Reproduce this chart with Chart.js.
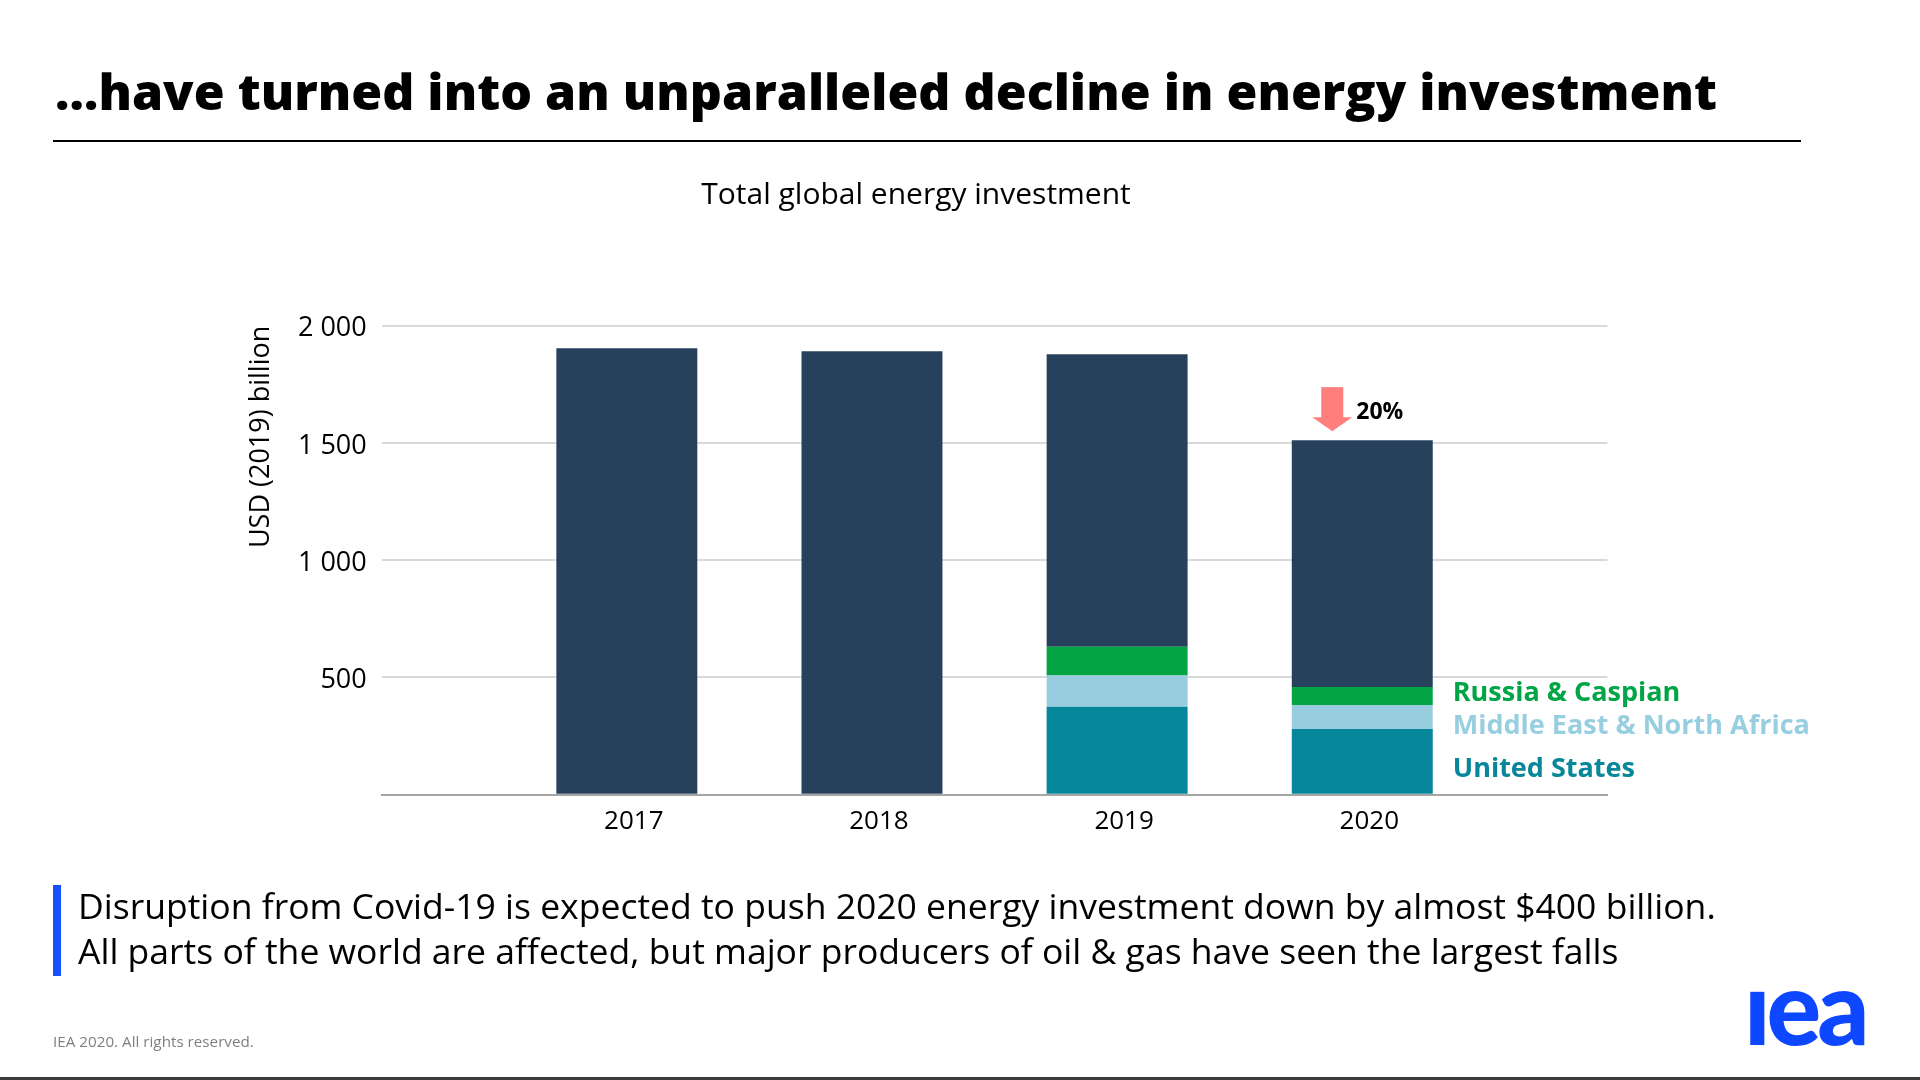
<!DOCTYPE html>
<html>
<head>
<meta charset="utf-8">
<script src="https://cdn.jsdelivr.net/npm/chart.js@4.4.1/dist/chart.umd.min.js"></script>
<style>
    html, body { margin: 0; padding: 0; background: #fff; }
    body { width: 1920px; height: 1080px; position: relative; overflow: hidden; font-family: 'Open Sans', sans-serif; }
    #chartBox { position: absolute; left: 0; top: 0; width: 1920px; height: 1080px; }
    .slideTitle { position: absolute; left: 55px; top: 57px; font-family: 'Open Sans', sans-serif; font-weight: 800; font-size: 50px; line-height: 68px; white-space: nowrap; color: #000; }
    .rule { position: absolute; left: 53px; top: 140px; width: 1748px; height: 2px; background: #000; }
    .bluebar { position: absolute; left: 53px; top: 885px; width: 8px; height: 91px; background: #1650ff; }
    .message { position: absolute; left: 78px; top: 883px; font-size: 34px; line-height: 45px; color: #000; white-space: nowrap; }
    .footer { position: absolute; left: 53px; top: 1031px; font-size: 15px; line-height: 20px; color: #7f7f7f; white-space: nowrap; }
    .logo { position: absolute; left: 1744px; top: 945px; font-family: 'Lato', sans-serif; font-weight: 900; font-size: 102px; line-height: 122px; color: #0d47ff; letter-spacing: -4px; }
    .bottomband { position: absolute; left: 0; top: 1077px; width: 1920px; height: 3px; background: #3a3a3a; }
</style>
</head>
<body>
<div id="chartBox"><canvas id="chartInversion"></canvas></div>
<div class="slideTitle" id="slideTitle">…have turned into an unparalleled decline in energy investment</div>
<div class="rule"></div>
<div class="bluebar"></div>
<div class="message">
    <div id="msgLine1">Disruption from Covid-19 is expected to push 2020 energy investment down by almost $400 billion.</div>
    <div>All parts of the world are affected, but major producers of oil &amp; gas have seen the largest falls</div>
</div>
<div class="footer" id="footer">IEA 2020. All rights reserved.</div>
<div class="logo">ıea</div>
<div class="bottomband"></div>

<script>
// datos
const years = ['', '2017', '2018', '2019', '2020', ''];
const unitedStates = [null, null, null, 375, 280, null];
const middleEastNorthAfrica = [null, null, null, 133, 102, null];
const russiaCaspian = [null, null, null, 123, 77, null];
const restOfWorld = [null, 1904, 1891, 1247, 1053, null];
const seriesNames = ['United States', 'Middle East & North Africa', 'Russia & Caspian', 'Other'];
const yTicks = [0, 500, 1000, 1500, 2000];
const dropLabel = '20%';

const colores = {
    us: '#05869a',
    mena: '#98cddf',
    russia: '#02a444',
    rest: '#27405b'
};

/* ==============================
   AJUSTAR TEXTOS HTML
================================ */
function ajustarAncho(el, objetivo, target) {
    const w = el.getBoundingClientRect().width;
    const box = target || el;
    const fs = parseFloat(getComputedStyle(box).fontSize);
    box.style.fontSize = (fs * objetivo / w).toFixed(2) + 'px';
}

function ajustarEspaciado(el, objetivo) {
    const w = el.getBoundingClientRect().width;
    const n = el.textContent.length;
    el.style.letterSpacing = ((objetivo - w) / n).toFixed(3) + 'px';
}

ajustarEspaciado(document.getElementById('slideTitle'), 1662);
const linea1 = document.getElementById('msgLine1');
linea1.style.display = 'inline-block';
ajustarAncho(linea1, 1638, linea1.parentElement);
ajustarAncho(document.getElementById('footer'), 201);

/* ==============================
   FLECHA Y ETIQUETAS
================================ */
const anotaciones = {
    id: 'anotaciones',
    afterDatasetsDraw(chart) {
        const ctx = chart.ctx;
        const last = 4; // 2020
        const barTop = chart.getDatasetMeta(3).data[last];

        // flecha
        const cx = barTop.x - 30;
        const tip = barTop.y - 9;
        ctx.save();
        ctx.fillStyle = '#ff7f7f';
        ctx.fillRect(cx - 11, tip - 44, 22, 31);
        ctx.beginPath();
        ctx.moveTo(cx - 20, tip - 14);
        ctx.lineTo(cx + 20, tip - 14);
        ctx.lineTo(cx, tip);
        ctx.closePath();
        ctx.fill();

        ctx.fillStyle = '#000';
        ctx.font = "bold 23px 'Open Sans'";
        ctx.textAlign = 'left';
        ctx.textBaseline = 'middle';
        ctx.fillText(dropLabel, barTop.x - 6, barTop.y - 28);

        // etiquetas de regiones
        const offsets = [8, 9, -3];
        const colorsText = ['#06879a', '#98cfe0', '#00a546'];
        ctx.font = "bold 27px 'Open Sans'";
        for (let i = 0; i < 3; i++) {
            const el = chart.getDatasetMeta(i).data[last];
            const yc = (el.y + el.base) / 2 + offsets[i];
            ctx.fillStyle = colorsText[i];
            ctx.fillText(seriesNames[i], el.x + el.width / 2 + 20, yc);
        }
        ctx.restore();
    }
};

Chart.defaults.font.family = "'Open Sans', sans-serif";
Chart.defaults.color = '#000';

new Chart(document.getElementById('chartInversion'), {
    type: 'bar',
    data: {
        labels: years,
        datasets: [
            { label: seriesNames[0], data: unitedStates, backgroundColor: colores.us },
            { label: seriesNames[1], data: middleEastNorthAfrica, backgroundColor: colores.mena },
            { label: seriesNames[2], data: russiaCaspian, backgroundColor: colores.russia },
            { label: seriesNames[3], data: restOfWorld, backgroundColor: colores.rest }
        ]
    },
    options: {
        responsive: true,
        maintainAspectRatio: false,
        animation: false,
        datasets: {
            bar: { barPercentage: 1, categoryPercentage: 0.575, borderWidth: 0 }
        },
        layout: {
            padding: { left: 224.6, right: 312.6, top: 170, bottom: 225.3 }
        },
        plugins: {
            legend: { display: false },
            tooltip: { enabled: false },
            title: {
                display: true,
                text: 'Total global energy investment',
                color: '#000',
                font: { size: 30, weight: 'normal' },
                padding: { top: 7.5, bottom: 112.2 }
            }
        },
        scales: {
            x: {
                stacked: true,
                offset: false,
                grid: { display: false, drawTicks: false },
                border: { display: true, color: '#a6a6a6', width: 2 },
                ticks: { font: { size: 26 }, color: '#000', padding: 11, labelOffset: 7, autoSkip: false, maxRotation: 0 },
                afterFit: s => { s.height = 60; }
            },
            y: {
                stacked: true,
                min: 0,
                max: 2000,
                afterBuildTicks: axis => { axis.ticks = yTicks.map(v => ({ value: v })); },
                grid: { color: '#d9d9d9', lineWidth: 2, drawTicks: false },
                border: { display: false },
                ticks: {
                    font: { size: 27 },
                    color: '#000',
                    padding: 15,
                    labelOffset: 3,
                    callback: v => v === 0 ? '' : String(v).replace(/\B(?=(\d{3})+(?!\d))/g, ' ')
                },
                title: {
                    display: true,
                    text: 'USD (2019) billion',
                    align: 'end',
                    color: '#000',
                    font: { size: 27 },
                    padding: { top: 21, bottom: 0 }
                },
                afterFit: s => { s.width = 381.7 - 224.6; }
            }
        }
    },
    plugins: [anotaciones]
});
</script>
</body>
</html>
